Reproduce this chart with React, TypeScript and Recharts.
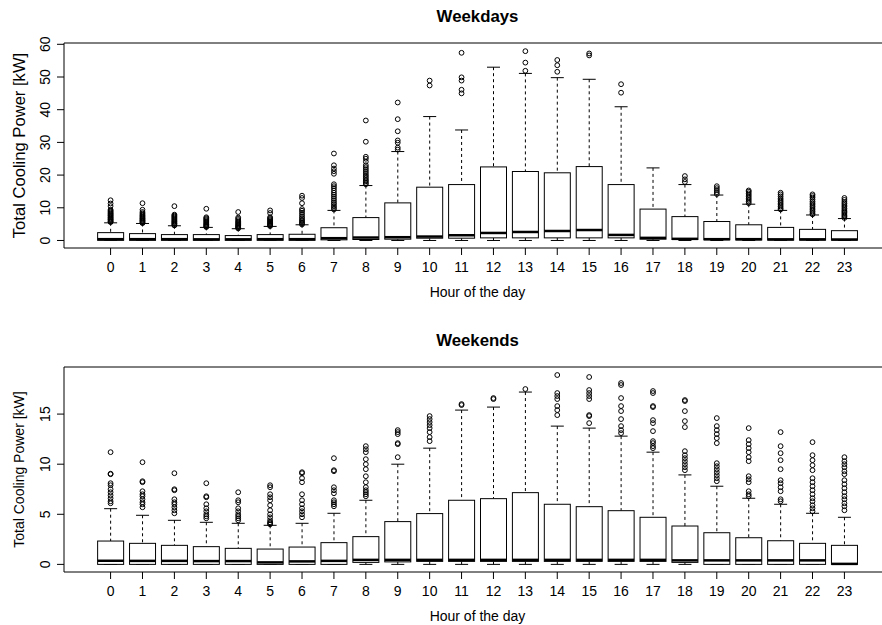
import React from "react";
import { ComposedChart, Bar, Scatter, XAxis, YAxis, ReferenceArea } from "recharts";

const FONT = '"Liberation Sans", Arial, Helvetica, sans-serif';

const HOURS = [0, 1, 2, 3, 4, 5, 6, 7, 8, 9, 10, 11, 12, 13, 14, 15, 16, 17, 18, 19, 20, 21, 22, 23];

// weekdays: whisker ends, quartiles and median per hour [kW]
const wdLow = [0, 0, 0, 0, 0, 0, 0, 0, 0, 0, 0, 0, 0, 0, 0, 0, 0, 0, 0, 0, 0, 0, 0, 0];
const wdQ1 = [0.05, 0.05, 0.05, 0.05, 0.05, 0.05, 0.05, 0.2, 0.3, 0.4, 0.7, 0.7, 0.8, 0.8, 0.8, 0.8, 0.8, 0.4, 0.3, 0.2, 0.15, 0.1, 0.1, 0.1];
const wdMed = [0.4, 0.4, 0.4, 0.35, 0.35, 0.4, 0.4, 0.7, 0.9, 1.0, 1.2, 1.6, 2.3, 2.6, 2.9, 3.2, 1.7, 0.8, 0.5, 0.4, 0.4, 0.35, 0.35, 0.3];
const wdQ3 = [2.4, 2.1, 1.8, 1.8, 1.5, 1.8, 1.9, 3.9, 7.0, 11.5, 16.3, 17.1, 22.5, 21.1, 20.7, 22.6, 17.1, 9.6, 7.3, 5.8, 4.8, 4.0, 3.4, 3.0];
const wdHigh = [5.4, 5.2, 4.5, 4.0, 3.6, 4.3, 4.8, 9.2, 16.8, 27.2, 37.9, 33.8, 53.0, 51.1, 49.8, 49.3, 40.9, 22.2, 17.1, 13.9, 11.1, 9.2, 7.8, 6.7];
const wdOutliers: number[][] = [
  [5.6, 5.8, 6.0, 6.3, 6.5, 6.7, 7.0, 7.2, 7.5, 7.7, 8.0, 8.2, 8.5, 8.8, 9.1, 9.4, 10.5, 11.3, 12.3],
  [5.3, 5.5, 5.8, 6.0, 6.2, 6.5, 6.7, 7.0, 7.3, 7.6, 7.9, 8.3, 8.7, 9.4, 11.4],
  [4.6, 4.8, 5.1, 5.3, 5.6, 5.8, 6.1, 6.4, 6.7, 7.0, 7.3, 7.6, 7.9, 10.5],
  [4.1, 4.3, 4.5, 4.8, 5.0, 5.3, 5.6, 5.9, 6.2, 6.5, 6.8, 7.1, 9.7],
  [3.7, 3.9, 4.1, 4.4, 4.6, 4.9, 5.2, 5.5, 5.8, 6.2, 6.6, 7.0, 8.7],
  [4.4, 4.6, 4.8, 5.1, 5.3, 5.6, 5.9, 6.2, 6.5, 6.8, 7.1, 8.4, 9.2],
  [4.9, 5.2, 5.5, 5.9, 6.3, 6.8, 7.3, 7.9, 8.5, 9.1, 9.6, 11.4, 13.0, 13.7],
  [9.5, 10.0, 10.5, 11.1, 11.6, 12.2, 12.8, 13.4, 14.0, 14.6, 15.3, 16.0, 16.6, 17.2, 20.4, 21.2, 22.0, 23.0, 26.6],
  [17.2, 17.6, 18.1, 18.5, 19.0, 19.5, 20.0, 20.6, 21.2, 21.8, 22.4, 23.0, 24.1, 25.0, 25.6, 30.2, 36.7],
  [27.8, 28.4, 29.9, 30.6, 33.4, 37.1, 42.2],
  [47.4, 48.9],
  [45.0, 46.1, 48.9, 49.9, 57.4],
  [],
  [51.9, 54.4, 57.9],
  [51.6, 53.6, 55.2],
  [56.6, 57.2],
  [45.2, 47.8],
  [],
  [17.9, 18.7, 19.7],
  [14.2, 14.8, 15.4, 16.0, 16.6],
  [11.4, 11.9, 12.4, 12.9, 13.4, 13.9, 14.4, 14.9, 15.3],
  [9.5, 9.9, 10.4, 10.9, 11.4, 11.9, 12.4, 12.9, 13.5, 14.1, 14.6],
  [8.0, 8.4, 8.9, 9.4, 9.9, 10.4, 10.9, 11.4, 11.9, 12.5, 13.1, 13.6, 14.1],
  [6.9, 7.3, 7.7, 8.1, 8.5, 8.9, 9.3, 9.8, 10.3, 10.8, 11.3, 11.8, 12.4, 13.0],
];

// weekends
const weLow = [0, 0, 0, 0, 0, 0, 0, 0, 0, 0, 0, 0, 0, 0, 0, 0, 0, 0, 0, 0, 0, 0, 0, 0];
const weQ1 = [0, 0, 0, 0, 0, 0, 0, 0, 0.2, 0.25, 0.3, 0.3, 0.3, 0.3, 0.3, 0.3, 0.3, 0.3, 0.2, 0, 0, 0, 0, 0];
const weMed = [0.36, 0.35, 0.35, 0.33, 0.33, 0.2, 0.3, 0.35, 0.45, 0.45, 0.45, 0.45, 0.45, 0.45, 0.45, 0.45, 0.45, 0.45, 0.4, 0.4, 0.4, 0.4, 0.4, 0.05];
const weQ3 = [2.33, 2.1, 1.9, 1.77, 1.6, 1.53, 1.73, 2.17, 2.77, 4.27, 5.07, 6.4, 6.56, 7.16, 6.0, 5.76, 5.36, 4.7, 3.83, 3.16, 2.66, 2.36, 2.1, 1.9];
const weHigh = [5.56, 4.9, 4.4, 4.2, 4.1, 3.9, 4.1, 5.1, 6.4, 10.0, 11.6, 15.4, 15.7, 17.2, 13.8, 13.6, 12.8, 11.2, 8.93, 7.8, 6.6, 6.0, 5.1, 4.7];
const weOutliers: number[][] = [
  [6.1, 6.3, 6.6, 6.9, 7.2, 7.5, 7.9, 8.1, 9.0, 9.05, 11.2],
  [5.7, 6.0, 6.2, 6.5, 6.8, 7.0, 7.3, 8.2, 8.3, 10.2],
  [5.1, 5.4, 5.7, 6.0, 6.2, 6.5, 7.4, 7.5, 9.1],
  [4.6, 4.8, 5.0, 5.3, 5.6, 6.0, 6.7, 6.8, 8.1],
  [4.4, 4.6, 4.8, 5.0, 5.3, 5.6, 6.2, 6.4, 7.2],
  [4.0, 4.1, 4.2, 4.4, 4.7, 5.0, 5.4, 5.9, 6.4, 6.7, 7.0, 7.7, 7.9],
  [4.7, 5.0, 5.3, 5.6, 6.0, 6.4, 7.0, 8.2, 8.6, 9.1, 9.2],
  [5.8, 6.0, 6.2, 6.4, 7.1, 7.4, 7.7, 9.3, 9.4, 10.6],
  [6.8, 7.0, 7.2, 7.4, 7.7, 8.2, 8.8, 9.5, 10.0, 10.5, 11.2, 11.5, 11.8],
  [10.7, 12.0, 12.1, 13.0, 13.2, 13.4],
  [12.3, 12.7, 13.2, 13.6, 13.9, 14.2, 14.5, 14.8],
  [15.9, 16.0],
  [16.5, 16.6],
  [17.5],
  [14.9, 15.4, 15.8, 16.5, 16.8, 17.1, 18.9],
  [14.1, 14.8, 14.9, 16.5, 16.8, 17.1, 17.4, 18.7],
  [13.1, 13.4, 13.8, 14.5, 15.3, 15.8, 16.6, 17.9, 18.1],
  [11.6, 11.8, 12.1, 12.3, 13.3, 14.1, 14.4, 15.7, 15.8, 17.1, 17.3],
  [9.4, 9.7, 10.0, 10.3, 10.6, 10.9, 11.3, 13.7, 14.3, 15.3, 16.3, 16.4],
  [8.3, 8.6, 8.9, 9.2, 9.5, 9.8, 10.1, 12.1, 12.6, 13.0, 13.4, 13.8, 14.6],
  [6.8, 7.0, 7.3, 8.2, 8.5, 8.8, 10.3, 10.7, 11.2, 11.6, 12.0, 12.4, 13.6],
  [6.3, 6.5, 7.3, 7.7, 8.1, 8.4, 9.5, 10.4, 11.1, 11.8, 13.2],
  [5.3, 5.6, 5.9, 6.3, 6.6, 7.0, 7.4, 7.8, 8.2, 8.6, 9.4, 9.9, 10.4, 10.9, 12.2],
  [5.4, 5.8, 6.1, 6.5, 6.8, 7.2, 7.6, 8.0, 8.4, 9.0, 9.3, 9.7, 10.0, 10.3, 10.7],
];

const WD_TICKS = [0, 10, 20, 30, 40, 50, 60];
const WE_TICKS = [0, 5, 10, 15];
const X_DOMAIN = [-1.46, 24.46];

type BoxRow = { hour: number; lo: number; q1: number; med: number; q3: number; hi: number };

const buildRows = (lo: number[], q1: number[], med: number[], q3: number[], hi: number[]): BoxRow[] =>
  HOURS.map((h, i) => ({ hour: h, lo: lo[i], q1: q1[i], med: med[i], q3: q3[i], hi: hi[i] }));

const buildOutliers = (out: number[][]) =>
  out.flatMap((vals, i) => vals.map((v) => ({ hour: HOURS[i], v })));

// bar spans lo..hi, the rest is placed inside that pixel range
const BoxShape = (props: any) => {
  const { x, y, width, height, payload } = props;
  if (x == null || y == null || !payload) return null;
  const top = Math.min(y, y + height);
  const bottom = Math.max(y, y + height);
  const span = payload.hi - payload.lo;
  const py = (v: number) => top + ((payload.hi - v) / span) * (bottom - top);
  const cx = x + width / 2;
  const cap = width / 4;
  return (
    <g>
      <line x1={cx} x2={cx} y1={py(payload.hi)} y2={py(payload.q3)} stroke="#000" strokeDasharray="3 3" />
      <line x1={cx} x2={cx} y1={py(payload.q1)} y2={py(payload.lo)} stroke="#000" strokeDasharray="3 3" />
      <line x1={cx - cap} x2={cx + cap} y1={py(payload.hi)} y2={py(payload.hi)} stroke="#000" />
      <line x1={cx - cap} x2={cx + cap} y1={py(payload.lo)} y2={py(payload.lo)} stroke="#000" />
      <rect x={x} y={py(payload.q3)} width={width} height={py(payload.q1) - py(payload.q3)} fill="#fff" stroke="#000" />
      <line x1={x} x2={x + width} y1={py(payload.med)} y2={py(payload.med)} stroke="#000" strokeWidth={2.5} />
    </g>
  );
};

const OutlierDot = (props: any) => {
  const { cx, cy } = props;
  if (cx == null || cy == null) return null;
  return <circle cx={cx} cy={cy} r={2.4} fill="none" stroke="#000" strokeWidth={1} />;
};

const YTick = (props: any) => {
  const { x, y, payload } = props;
  return (
    <text x={x} y={y} transform={`rotate(-90 ${x} ${y})`} textAnchor="middle" fontSize={14} fontFamily={FONT} fill="#000">
      {payload.value}
    </text>
  );
};

const XTitle = (props: any) => {
  const vb = props.viewBox || {};
  return (
    <text x={vb.x + vb.width / 2} y={vb.y + 49} textAnchor="middle" fontSize={14} fontFamily={FONT} fill="#000">
      Hour of the day
    </text>
  );
};

const YTitle = (props: any) => {
  const vb = props.viewBox || {};
  const size = props.size || 14;
  const bx = props.baseX || 24;
  const cy = vb.y + vb.height / 2;
  return (
    <text x={bx} y={cy} transform={`rotate(-90 ${bx} ${cy})`} textAnchor="middle" fontSize={size} fontFamily={FONT} fill="#000">
      Total Cooling Power [kW]
    </text>
  );
};

type PanelProps = {
  title: string;
  rows: BoxRow[];
  outliers: { hour: number; v: number }[];
  yDomain: number[];
  yTicks: number[];
  top: number;
  height: number;
  marginTop: number;
  yTitleSize: number;
  yTitleX: number;
};

const Panel = ({ title, rows, outliers, yDomain, yTicks, top, height, marginTop, yTitleSize, yTitleX }: PanelProps) => (
  <div style={{ position: "absolute", left: 0, top, width: 882, height, overflow: "hidden" }}>
    <div
      style={{
        position: "absolute",
        left: 0,
        width: 955,
        top: marginTop - 35,
        textAlign: "center",
        fontFamily: FONT,
        fontWeight: "bold",
        fontSize: 16.8,
        lineHeight: "17px",
      }}
    >
      {title}
    </div>
    <ComposedChart width={900} height={height} data={rows} margin={{ top: marginTop, right: 9, bottom: 0, left: 0 }}>
      <XAxis
        dataKey="hour"
        type="number"
        domain={X_DOMAIN}
        ticks={HOURS}
        interval={0}
        allowDataOverflow
        axisLine={false}
        tickSize={7}
        tickMargin={7}
        tickLine={{ stroke: "#000" }}
        tick={{ fontSize: 14, fill: "#000", fontFamily: FONT }}
        height={height - marginTop - 205}
        label={<XTitle />}
      />
      <YAxis
        type="number"
        domain={yDomain}
        ticks={yTicks}
        allowDataOverflow
        width={64}
        axisLine={false}
        tickSize={7}
        tickMargin={7}
        tickLine={{ stroke: "#000" }}
        tick={<YTick />}
        label={<YTitle size={yTitleSize} baseX={yTitleX} />}
      />
      <ReferenceArea
        x1={X_DOMAIN[0]}
        x2={X_DOMAIN[1]}
        y1={yDomain[0]}
        y2={yDomain[1]}
        fill="none"
        fillOpacity={0}
        stroke="#000"
        strokeWidth={1}
        ifOverflow="visible"
      />
      <Bar dataKey={(d: BoxRow) => [d.lo, d.hi]} barSize={26} shape={BoxShape} isAnimationActive={false} />
      <Scatter data={outliers} dataKey="v" shape={OutlierDot} isAnimationActive={false} />
    </ComposedChart>
  </div>
);

export default function App() {
  const wdRows = buildRows(wdLow, wdQ1, wdMed, wdQ3, wdHigh);
  const weRows = buildRows(weLow, weQ1, weMed, weQ3, weHigh);
  return (
    <div style={{ position: "absolute", left: 0, top: 0, width: 882, height: 625, background: "#fff", overflow: "hidden" }}>
      <Panel
        title="Weekdays"
        rows={wdRows}
        outliers={buildOutliers(wdOutliers)}
        yDomain={[-2.3, 60.4]}
        yTicks={WD_TICKS}
        top={0}
        height={310}
        marginTop={43}
        yTitleSize={16.6}
        yTitleX={25}
      />
      <Panel
        title="Weekends"
        rows={weRows}
        outliers={buildOutliers(weOutliers)}
        yDomain={[-0.76, 19.7]}
        yTicks={WE_TICKS}
        top={310}
        height={315}
        marginTop={57}
        yTitleSize={14}
        yTitleX={23.5}
      />
    </div>
  );
}
